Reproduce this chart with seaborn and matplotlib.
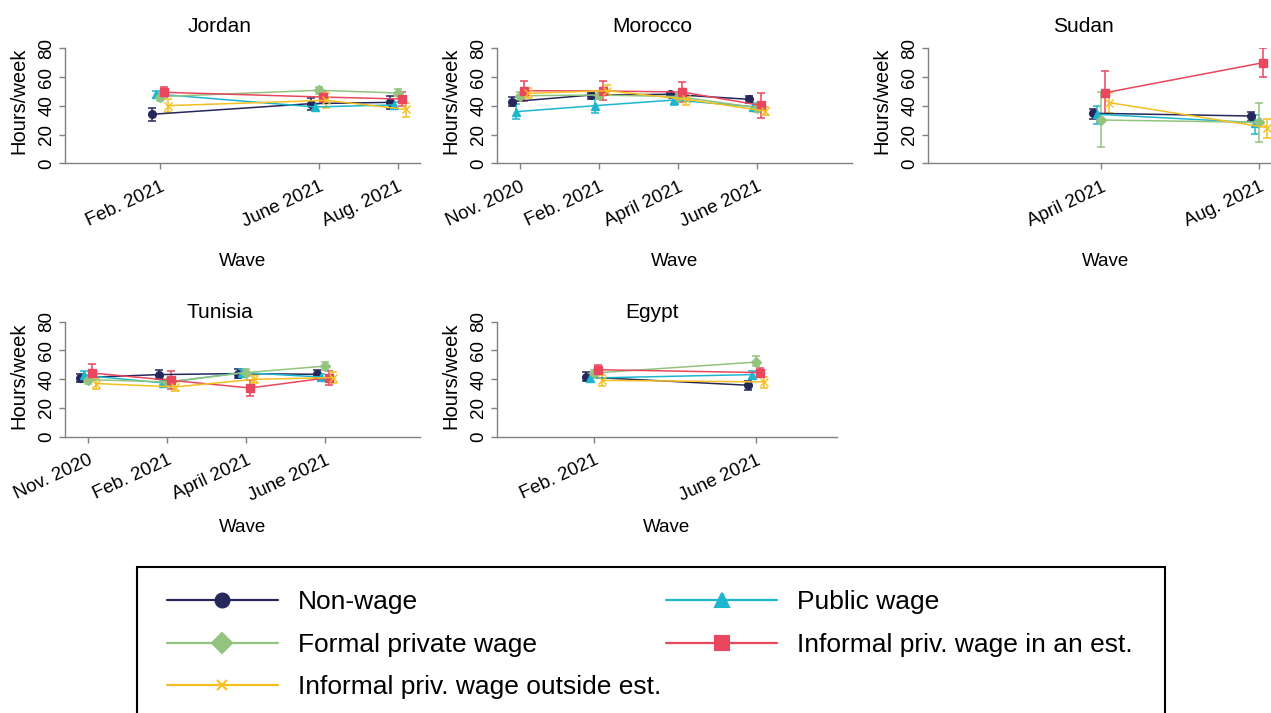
import matplotlib
matplotlib.use("Agg")
import matplotlib.pyplot as plt
from matplotlib.lines import Line2D
from matplotlib.patches import Rectangle
import pandas as pd
import seaborn as sns

# ---- series definitions -------------------------------------------------
series = ["Non-wage", "Public wage", "Formal private wage",
          "Informal priv. wage in an est.", "Informal priv. wage outside est."]
colors = ["#26275a", "#1db6cf", "#93c47f", "#e8475d", "#f5bf20"]
markers = ["o", "^", "D", "s", "x"]
offsets = [-0.10, -0.05, 0.0, 0.05, 0.10]

wave_labels = ["Nov. 2020", "Feb. 2021", "April 2021", "June 2021", "Aug. 2021"]

# ---- data: one row per series (order as in `series`) --------------------
jordan_waves = ["Feb. 2021", "June 2021", "Aug. 2021"]
jordan_mean = [[34.1, 41.5, 42.4], [48.2, 39.2, 40.6], [46.4, 50.8, 48.9],
               [49.4, 46.1, 44.7], [40.1, 43.8, 37.5]]
jordan_low = [[29.2, 36.9, 37.5], [45.6, 36.9, 38.5], [43.6, 48.4, 46.6],
              [46.1, 42.5, 40.1], [35.5, 38.3, 32.0]]
jordan_high = [[38.7, 45.6, 46.8], [50.5, 41.3, 42.4], [48.7, 53.3, 51.5],
               [53.1, 50.0, 49.4], [44.7, 48.7, 41.7]]

morocco_waves = ["Nov. 2020", "Feb. 2021", "April 2021", "June 2021"]
morocco_mean = [[42.9, 47.5, 48.0, 44.5], [35.9, 40.1, 44.0, 39.4],
                [47.0, 47.5, 46.4, 38.7], [50.5, 50.3, 49.6, 40.3],
                [48.7, 50.5, 44.5, 36.4]]
morocco_low = [[40.1, 45.0, 46.4, 42.0], [30.6, 35.2, 40.8, 36.6],
               [44.0, 45.0, 44.0, 36.0], [43.6, 44.0, 42.6, 31.3],
               [45.2, 47.5, 40.6, 33.6]]
morocco_high = [[45.9, 49.1, 49.6, 47.0], [41.0, 45.0, 45.9, 42.2],
                [49.8, 50.0, 48.5, 41.0], [57.5, 57.5, 56.8, 48.9],
                [52.2, 54.5, 46.8, 39.4]]

sudan_waves = ["April 2021", "Aug. 2021"]
sudan_mean = [[34.8, 32.9], [34.1, 28.3], [30.1, 28.5], [49.1, 70.0], [42.2, 24.8]]
sudan_low = [[30.8, 29.6], [27.4, 20.4], [11.1, 15.0], [34.1, 59.8], [35.2, 17.8]]
sudan_high = [[37.8, 35.9], [39.9, 33.6], [49.4, 41.7], [64.4, 80.4], [48.7, 31.0]]

tunisia_waves = ["Nov. 2020", "Feb. 2021", "April 2021", "June 2021"]
tunisia_mean = [[41.1, 43.2, 43.9, 43.4], [42.7, 37.4, 44.6, 41.5],
                [39.7, 38.1, 44.6, 49.1], [44.3, 39.2, 33.9, 41.1],
                [37.0, 34.6, 39.9, 41.1]]
tunisia_low = [[38.1, 39.9, 40.8, 40.4], [39.9, 35.8, 41.5, 39.2],
               [37.0, 35.8, 42.0, 46.6], [39.2, 33.5, 28.4, 35.8],
               [33.5, 31.6, 37.4, 37.4]]
tunisia_high = [[43.9, 46.2, 46.8, 46.2], [45.5, 39.2, 47.3, 43.9],
                [42.7, 40.4, 47.3, 51.9], [50.3, 45.7, 39.2, 45.7],
                [39.9, 38.1, 43.2, 45.0]]

egypt_waves = ["Feb. 2021", "June 2021"]
egypt_mean = [[41.5, 35.8], [40.8, 43.2], [44.3, 51.9], [46.6, 44.6], [39.2, 38.1]]
egypt_low = [[38.5, 32.3], [38.1, 40.4], [42.0, 48.9], [43.9, 41.5], [35.3, 33.9]]
egypt_high = [[45.0, 38.5], [42.7, 45.7], [46.6, 55.8], [49.6, 48.0], [42.7, 41.5]]

# ---- figure -------------------------------------------------------------
sns.set_style("ticks")
plt.rcParams["font.family"] = ["Liberation Sans", "DejaVu Sans"]
plt.rcParams["text.color"] = "black"
plt.rcParams["axes.labelcolor"] = "black"
plt.rcParams["xtick.labelcolor"] = "black"
plt.rcParams["ytick.labelcolor"] = "black"

W, H = 1271, 713
fig = plt.figure(figsize=(W / 100, H / 100), dpi=100)


def px_axes(left, top, width, height):
    return fig.add_axes([left / W, 1 - (top + height) / H, width / W, height / H])


# (name, waves, mean, low, high, left px, top px, width px, xlim)
panels = [
    ("Jordan", jordan_waves, jordan_mean, jordan_low, jordan_high, 65, 48.3, 355, (0.80, 5.28)),
    ("Morocco", morocco_waves, morocco_mean, morocco_low, morocco_high, 497, 48.3, 355, (0.71, 5.20)),
    ("Sudan", sudan_waves, sudan_mean, sudan_low, sudan_high, 928, 48.3, 355, (0.81, 5.30)),
    ("Tunisia", tunisia_waves, tunisia_mean, tunisia_low, tunisia_high, 65, 321.7, 355, (0.71, 5.20)),
    ("Egypt", egypt_waves, egypt_mean, egypt_low, egypt_high, 497, 321.7, 340, (0.80, 5.00)),
]

spine_col = "#808080"
for name, waves, mean, low, high, left, top, width, xlim in panels:
    ax = px_axes(left, top, width, 115)
    top_row = top < 100
    rows = []
    for i, s in enumerate(series):
        for j, w in enumerate(waves):
            rows.append({"series": s,
                         "x": wave_labels.index(w) + 1 + offsets[i],
                         "hours": mean[i][j], "low": low[i][j], "high": high[i][j]})
    df = pd.DataFrame(rows)

    for i, s in enumerate(series):
        d = df[df["series"] == s]
        ax.errorbar(d["x"], d["hours"],
                    yerr=[d["hours"] - d["low"], d["high"] - d["hours"]],
                    fmt="none", ecolor=colors[i], elinewidth=1.1,
                    capsize=3, capthick=1.1, zorder=2)
        sns.lineplot(data=d, x="x", y="hours", color=colors[i],
                     marker=markers[i], errorbar=None, legend=False,
                     linewidth=1.1, markersize=5.5, markeredgewidth=1.0,
                     markeredgecolor=colors[i], ax=ax, zorder=3)

    ax.set_xlim(*xlim)
    ax.set_ylim(0, 80)
    ax.set_yticks([0, 20, 40, 60, 80])
    ax.set_xticks([wave_labels.index(w) + 1 for w in waves])
    ax.set_xticklabels(waves, rotation=25, ha="right", va="top",
                       rotation_mode="anchor", fontsize=13.5)
    for lab in ax.get_yticklabels():
        lab.set_rotation(90)
        lab.set_va("center")
        lab.set_fontsize(13.5)
    ax.tick_params(axis="both", length=4, width=1, color=spine_col)
    ax.tick_params(axis="y", pad=3)
    ax.tick_params(axis="x", pad=7)
    for sp in ["top", "right"]:
        ax.spines[sp].set_visible(False)
    for sp in ["left", "bottom"]:
        ax.spines[sp].set_color(spine_col)
        ax.spines[sp].set_linewidth(1.0)

    ax.set_title(name, fontsize=15, x=155 / width, pad=12 if top_row else 1)
    ax.set_xlabel("Wave", fontsize=13.5)
    ax.set_ylabel("Hours/week", fontsize=14.5)
    xlab_gap = (262 - 163.3) if top_row else (527 - 436.7)
    ax.xaxis.set_label_coords(0.5, -xlab_gap / 115)
    ax.xaxis.label.set_va("center")
    ax.yaxis.set_label_coords(-46 / width, 0.54 if top_row else 0.53)
    ax.yaxis.label.set_va("center")

# ---- legend -------------------------------------------------------------
handles = [Line2D([], [], color=c, marker=m, markersize=10 if m != "x" else 7,
                  markeredgecolor=c, markeredgewidth=1.5, linewidth=1.6, label=s)
           for s, c, m in zip(series, colors, markers)]
order = [0, 2, 4, 1, 3]
fig.legend([handles[k] for k in order], [series[k] for k in order],
           loc="upper left", bbox_to_anchor=(167 / W, 1 - 590 / H),
           ncol=2, frameon=False, fontsize=19, borderpad=0, borderaxespad=0,
           handlelength=4.2, handletextpad=0.76, columnspacing=0.2,
           labelspacing=0.71)
fig.patches.append(Rectangle((137 / W, -0.05), (1165 - 137) / W, (713 - 567) / H + 0.05,
                             transform=fig.transFigure, fill=False,
                             edgecolor="black", linewidth=1.5, clip_on=False))

fig.savefig("out.png", dpi=100)
